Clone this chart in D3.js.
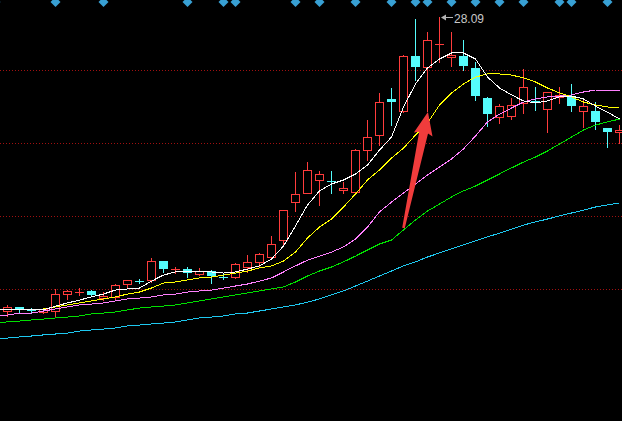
<!DOCTYPE html>
<html><head><meta charset="utf-8">
<script src="https://cdn.jsdelivr.net/npm/d3@7"></script>
<style>html,body{margin:0;padding:0;background:#000;overflow:hidden}</style>
</head><body>
<svg id="c" width="622" height="421"></svg>
<script>
// ---- data (one candle per trading day) ----
const opens  = [11.98,12.20,12.05,11.93,11.98,12.91,13.01,13.08,12.69,12.75,13.46,13.63,13.68,14.72,14.27,14.28,14.01,14.17,13.85,13.84,14.39,14.67,14.94,15.87,17.95,18.45,19.16,19.11,18.61,18.50,20.80,21.62,23.60,22.94,25.95,25.35,26.59,25.90,25.95,25.30,23.65,22.61,22.67,23.38,23.50,23.05,23.71,23.71,22.94,22.94,22.01,21.79];
const highs  = [12.31,12.22,12.14,12.14,13.19,13.13,13.24,13.13,13.02,13.46,13.70,13.73,14.88,14.74,14.39,14.39,14.34,14.20,14.01,14.61,15.05,15.16,16.09,17.54,19.60,20.14,19.65,19.65,19.05,20.83,22.45,23.93,24.20,26.01,27.98,27.27,28.09,27.27,26.83,25.62,23.68,23.32,23.65,25.24,24.25,24.00,24.25,24.42,23.54,23.43,22.03,22.17];
const lows   = [11.71,11.93,11.87,11.87,11.65,12.64,12.86,12.80,12.58,12.64,13.30,13.51,13.57,14.12,14.09,13.84,13.95,13.51,13.73,13.79,14.12,14.39,14.91,15.65,17.46,18.42,17.79,18.45,18.45,18.47,20.25,21.08,22.17,22.91,24.64,22.94,25.62,25.41,25.19,23.54,22.12,22.28,22.50,22.83,22.99,21.79,23.38,22.94,22.06,21.95,20.97,21.19];
const closes = [12.20,12.04,12.03,12.09,12.91,13.08,13.03,12.86,12.80,13.41,13.68,13.61,14.72,14.28,14.29,14.06,14.17,13.90,13.83,14.56,14.67,15.10,15.65,17.51,18.39,19.71,19.49,19.09,18.72,20.80,21.51,23.43,23.43,25.95,25.35,26.83,26.63,26.01,25.41,23.76,22.77,23.21,23.27,24.25,23.48,23.98,23.82,23.21,23.21,22.34,21.79,21.90];
// moving averages (first value = the day before the first visible candle)
const ma5   = [12.04,12.04,12.04,12.04,12.04,12.25,12.42,12.58,12.75,12.91,13.13,13.19,13.24,13.62,13.95,14.12,14.12,14.17,14.12,14.06,14.12,14.28,14.45,14.83,15.54,16.64,17.79,18.56,18.94,19.16,19.49,19.98,20.80,21.51,23.16,24.42,25.30,25.79,26.12,26.12,25.79,24.80,24.20,23.82,23.49,23.38,23.49,23.71,23.76,23.60,23.21,22.88,22.50];
const ma10  = [12.04,12.04,12.04,12.04,12.09,12.20,12.31,12.42,12.53,12.64,12.75,12.91,13.02,13.24,13.51,13.57,13.68,13.79,13.84,13.95,14.06,14.17,14.34,14.45,14.72,15.21,15.98,16.58,17.02,17.68,18.39,19.16,19.71,20.36,20.91,21.62,22.28,23.27,23.93,24.42,24.80,24.97,24.97,24.91,24.75,24.53,24.20,23.93,23.71,23.43,23.27,23.16,23.10];
const ma20  = [11.71,11.76,11.87,11.87,11.98,12.09,12.20,12.31,12.36,12.42,12.53,12.64,12.69,12.75,12.86,12.91,13.02,13.08,13.13,13.24,13.35,13.46,13.62,13.79,14.12,14.45,14.77,14.99,15.21,15.49,15.93,16.58,17.41,17.95,18.45,18.94,19.43,19.87,20.31,20.86,21.57,22.34,22.77,23.10,23.43,23.60,23.71,23.76,23.82,23.98,24.09,24.09,24.09];
const ma30  = [11.35,11.38,11.43,11.49,11.54,11.60,11.65,11.71,11.82,11.87,11.93,12.04,12.14,12.20,12.25,12.31,12.42,12.53,12.64,12.75,12.86,12.97,13.08,13.19,13.30,13.57,13.90,14.17,14.39,14.67,14.99,15.32,15.65,15.87,16.42,16.97,17.46,17.84,18.23,18.56,18.83,19.16,19.49,19.82,20.14,20.42,20.75,21.13,21.51,21.90,22.17,22.34,22.50];
const ma120 = [10.46,10.50,10.56,10.61,10.67,10.72,10.77,10.88,10.94,10.99,11.05,11.16,11.21,11.27,11.32,11.38,11.49,11.60,11.65,11.71,11.82,11.87,11.98,12.09,12.20,12.31,12.47,12.64,12.86,13.08,13.35,13.62,13.90,14.17,14.45,14.67,14.94,15.16,15.38,15.60,15.82,16.04,16.25,16.47,16.69,16.86,17.02,17.19,17.35,17.51,17.68,17.79,17.90];
const signalIdx  = [-1,4,8,15,18,19,24,26,29,32,34,35,37,39,41,43,46,47,50];
const gridPrices = [25.21,21.21,17.21,13.21];
const maxLabel = "28.09";
const maxIdx = 36;
// annotation arrow: from (index, price) to (index, price)
const arrowFrom = [33.04, 16.53];
const arrowTo   = [35.08, 22.88];

// ---- chart ----
const W = 622, H = 421;
const svg = d3.select("#c");
svg.append("rect").attr("width", W).attr("height", H).attr("fill", "#000");

const x = d3.scaleLinear().domain([0, opens.length - 1]).range([7, 619]);
const y = d3.scaleLinear().domain([5.9533, 29.0215]).range([H, 0]);

// grid
svg.append("g").selectAll("line").data(gridPrices).join("line")
  .attr("x1", 0).attr("x2", W)
  .attr("y1", d => Math.round(y(d)) + 0.5).attr("y2", d => Math.round(y(d)) + 0.5)
  .attr("stroke", "#a01010").attr("stroke-width", 1).attr("stroke-dasharray", "1,2")
  .attr("shape-rendering", "crispEdges");

// candles
const RED = "#ff3c3c", CYAN = "#54fcfc";
const cg = svg.append("g").attr("shape-rendering", "crispEdges");
opens.forEach((o, i) => {
  const c = closes[i], cx = Math.round(x(i));
  const yo = y(o), yc = y(c), yh = Math.round(y(highs[i])), yl = Math.round(y(lows[i]));
  const top = Math.round(Math.min(yo, yc)), bot = Math.round(Math.max(yo, yc));
  const up = c >= o;
  const col = up ? RED : CYAN;
  if (bot - top < 1) {
    cg.append("line").attr("x1", cx + 0.5).attr("x2", cx + 0.5).attr("y1", yh).attr("y2", yl + 1).attr("stroke", col);
    cg.append("line").attr("x1", cx - 4).attr("x2", cx + 5).attr("y1", top + 0.5).attr("y2", top + 0.5).attr("stroke", col);
    return;
  }
  if (up) {
    if (yh < top) cg.append("line").attr("x1", cx + 0.5).attr("x2", cx + 0.5).attr("y1", yh).attr("y2", top).attr("stroke", col);
    if (yl > bot) cg.append("line").attr("x1", cx + 0.5).attr("x2", cx + 0.5).attr("y1", bot + 1).attr("y2", yl + 1).attr("stroke", col);
    cg.append("rect").attr("x", cx - 3.5).attr("y", top + 0.5).attr("width", 8).attr("height", bot - top)
      .attr("fill", "#000").attr("stroke", col).attr("stroke-width", 1);
  } else {
    cg.append("line").attr("x1", cx + 0.5).attr("x2", cx + 0.5).attr("y1", yh).attr("y2", yl + 1).attr("stroke", col);
    cg.append("rect").attr("x", cx - 4).attr("y", top).attr("width", 9).attr("height", Math.max(bot - top, 1)).attr("fill", col);
  }
});

// moving averages (index shifted by one: first entry is the previous day)
const line = d3.line().x((d, i) => x(i - 1) + 0.5).y(d => y(d));
const mas = [[ma120, "#1ec8f0"], [ma30, "#00e000"], [ma20, "#ff80ff"], [ma10, "#ffff00"], [ma5, "#ffffff"]];
mas.forEach(([arr, col]) => {
  svg.append("path").datum(arr).attr("d", line).attr("fill", "none")
    .attr("stroke", col).attr("stroke-width", 1).attr("shape-rendering", "crispEdges");
});

// signal diamonds at top
svg.append("g").selectAll("path").data(signalIdx).join("path")
  .attr("transform", d => `translate(${Math.round(x(d)) + 0.5},0)`)
  .attr("d", "M-3,0 L3,0 L5,2 L0,7 L-5,2 Z")
  .attr("fill", "#38a0d4");

// max price label
const hx = Math.round(x(maxIdx)) + 2, hy = Math.round(y(highs[maxIdx])) + 0.5;
svg.append("line").attr("x1", hx + 2).attr("x2", hx + 12).attr("y1", hy).attr("y2", hy).attr("stroke", "#b4b4b4");
svg.append("path").attr("d", `M${hx},${hy} L${hx + 5},${hy - 3} L${hx + 5},${hy + 3} Z`).attr("fill", "#b4b4b4");
svg.append("text").attr("x", hx + 13).attr("y", hy + 5)
  .attr("font-family", "Liberation Sans, Arial, sans-serif").attr("font-size", 12)
  .attr("fill", "#c8c8c8").text(maxLabel);

// big red arrow
const T = [x(arrowFrom[0]), y(arrowFrom[1])], P = [x(arrowTo[0]), y(arrowTo[1])];
const dx = P[0] - T[0], dy = P[1] - T[1], L = Math.hypot(dx, dy);
const u = [dx / L, dy / L], n = [-u[1], u[0]];
const B = [P[0] - 21 * u[0], P[1] - 21 * u[1]];
const pt = (b, k, back = 0) => [b[0] + k * n[0] - back * u[0], b[1] + k * n[1] - back * u[1]];
const arrowPts = [P, pt(B, -9.5, 2), pt(B, -4.5), pt(T, -1.3), pt(T, 1.3), pt(B, 4.5), pt(B, 9.5, 2)];
svg.append("path").attr("d", "M" + arrowPts.map(p => p.join(",")).join("L") + "Z").attr("fill", "#f03c3c");
</script>
</body></html>
